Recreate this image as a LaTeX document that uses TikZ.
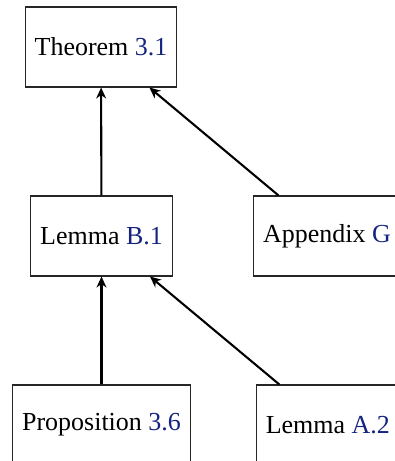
\documentclass[tikz,border=0pt]{standalone}
\usepackage{fontspec}
\setmainfont{Liberation Serif}
\usetikzlibrary{arrows.meta}
\definecolor{linkblue}{RGB}{20,36,128}
\newcommand{\refnum}[1]{\textcolor{linkblue}{#1}}

\begin{document}
\begin{tikzpicture}[x=0.385pt,y=-0.385pt,
        resbox/.style={draw,black!85,text=black,inner xsep=3.7pt,minimum height=30.8pt},
        dep/.style={thick,black,-{Stealth[length=4.2pt,width=3.8pt,inset=1.3pt]}}]

            \clip (0,0) rectangle (395,461);

            \node[resbox] (thm)  at (101,47)   {Theorem \refnum{3.1}};
            \node[resbox] (lemB) at (101.5,236) {Lemma \refnum{B.1}};
            \node[resbox,anchor=west] (appG) at (253,236) {Appendix \refnum{G}};
            \node[resbox] (prop) at (101.5,425) {Proposition \refnum{3.6}};
            \node[resbox,anchor=west] (lemA) at (255.7,425) {Lemma \refnum{A.2}};

            \draw[dep] (lemB) -- (thm);
            \draw[dep] (appG) -- (thm);
            \draw[dep] (prop) -- (lemB);
            \draw[dep] (lemA) -- (lemB);

        \end{tikzpicture}
\end{document}
